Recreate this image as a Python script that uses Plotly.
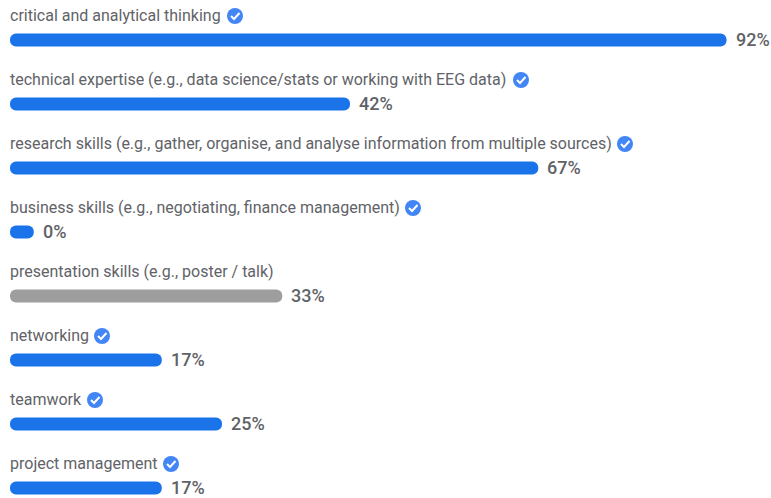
import plotly.graph_objects as go

skills = [
    "critical and analytical thinking",
    "technical expertise (e.g., data science/stats or working with EEG data)",
    "research skills (e.g., gather, organise, and analyse information from multiple sources)",
    "business skills (e.g., negotiating, finance management)",
    "presentation skills (e.g., poster / talk)",
    "networking",
    "teamwork",
    "project management",
]
percent = [92, 42, 67, 0, 33, 17, 25, 17]
colors = ["#1a73e8", "#1a73e8", "#1a73e8", "#1a73e8", "#9e9e9e", "#1a73e8", "#1a73e8", "#1a73e8"]
# badge centre in window pixels, None = no badge on that row
badge_px = [235, 521, 625, 413, None, 102, 95, 171]

W, H = 771, 498
PX_PER_PCT = 7.53
ZERO_PX = 33.8
FIRST_ROW_PX = 40
stub = 23.8 / PX_PER_PCT  # bars keep a minimum length at 0%

fig = go.Figure()
fig.add_trace(go.Bar(
    y=skills,
    x=[p + stub for p in percent],
    base=-stub,
    orientation="h",
    width=13 / 64,
    marker=dict(color=colors, cornerradius=6, line=dict(width=0)),
    hoverinfo="skip",
))

annotations = []
shapes = []
for i, name in enumerate(skills):
    annotations.append(dict(x=-stub, y=name, text=name, showarrow=False, xanchor="left",
                            yanchor="middle", yshift=25, xshift=-2,
                            font=dict(family="Roboto", size=16, color="#5f6368")))
    annotations.append(dict(x=percent[i], y=name, text=f"{percent[i]}%", showarrow=False,
                            xanchor="left", yanchor="middle", xshift=7, yshift=1,
                            font=dict(family="Roboto", size=18, color="#5f6368", weight=500)))
    if badge_px[i] is None:
        continue
    bx = (badge_px[i] - ZERO_PX) / PX_PER_PCT
    common = dict(xref="x", yref="y", xsizemode="pixel", ysizemode="pixel", xanchor=bx, yanchor=name)
    shapes.append(dict(type="circle", x0=-8, x1=8, y0=16, y1=32, fillcolor="#4285f4",
                       line=dict(width=0), layer="above", **common))
    shapes.append(dict(type="path", path="M -4 24 L -1 21 L 4.5 27", fillcolor="rgba(0,0,0,0)",
                       line=dict(color="white", width=2), layer="above", **common))

fig.update_layout(
    width=W, height=H,
    margin=dict(l=0, r=0, t=0, b=0),
    paper_bgcolor="white", plot_bgcolor="white",
    showlegend=False,
    annotations=annotations,
    shapes=shapes,
    xaxis=dict(range=[-ZERO_PX / PX_PER_PCT, (W - ZERO_PX) / PX_PER_PCT], visible=False),
    yaxis=dict(type="category", categoryorder="array", categoryarray=skills,
               range=[(H - FIRST_ROW_PX) / 64, -FIRST_ROW_PX / 64], visible=False),
)
# drop the default body margin so the figure fills the window
fig.write_html("out.html", config=dict(displayModeBar=False),
               post_script="document.body.style.margin = '0';")
